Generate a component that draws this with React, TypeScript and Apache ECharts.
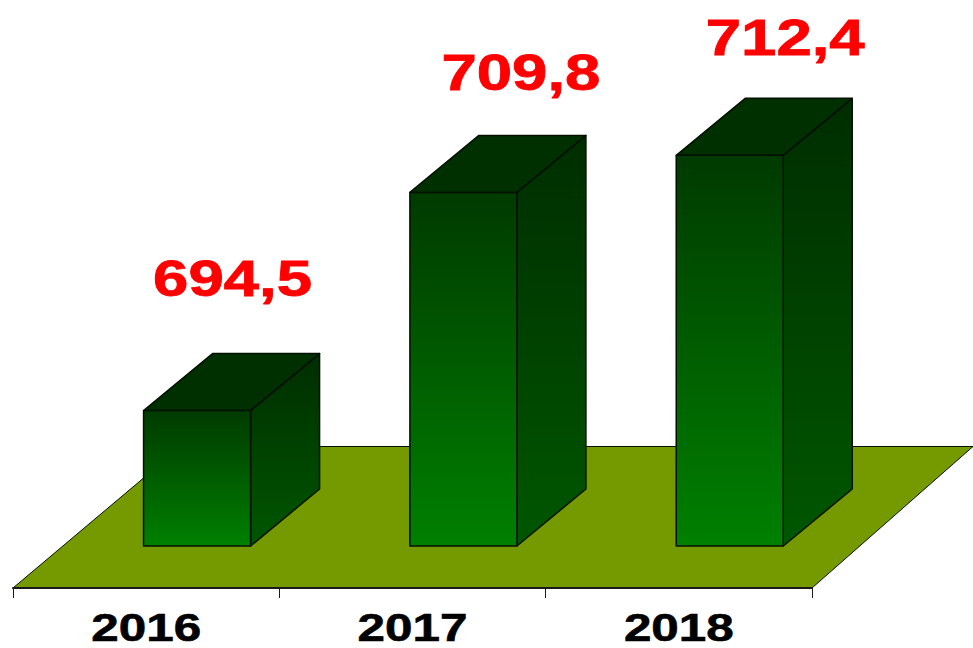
import React, { useEffect, useRef } from "react";
import * as echarts from "echarts";

const years = ["2016", "2017", "2018"];
const values = [694.5, 709.8, 712.4];
const valueLabels = ["694,5", "709,8", "712,4"];

// Hand placement of the value captions relative to each bar's front-left-top corner.
const captionShiftX = [89, 111, 109];
const captionShiftY = [-132.5, -120, -118];

const DEPTH_X = 69;
const DEPTH_Y = 57;
const BAR_W = 107;
const BAR_SHIFT = -2.6;
const OUTLINE = "#041000";

const vGrad = (top: string, bottom: string) =>
  new echarts.graphic.LinearGradient(0, 0, 0, 1, [
    { offset: 0, color: top },
    { offset: 1, color: bottom },
  ]);

export default function App() {
  const ref = useRef<HTMLDivElement>(null);
  useEffect(() => {
    document.body.style.margin = "0";
    document.body.style.background = "#ffffff";
    const chart = echarts.init(ref.current!, undefined, { renderer: "svg" });
    chart.setOption({
      animation: false,
      backgroundColor: "#ffffff",
      grid: { left: 13, width: 799, top: 47, height: 499 },
      xAxis: {
        type: "category",
        data: years,
        offset: 42,
        z: 6,
        axisLine: { lineStyle: { color: "#1a1a1a", width: 2 } },
        axisTick: { show: true, length: 10, lineStyle: { color: "#1a1a1a", width: 1 } },
        axisLabel: { show: false },
        splitLine: { show: false },
      },
      yAxis: { type: "value", min: 685, max: 720, show: false, splitLine: { show: false } },
      series: [
        {
          type: "custom",
          name: "floor",
          coordinateSystem: "cartesian2d",
          clip: false,
          z: 1,
          silent: true,
          data: [[0, 685]],
          encode: { x: 0, y: 1 },
          renderItem: (params: any) => {
            const g = params.coordSys;
            const bottom = g.y + g.height + 42;
            const top = bottom - 141.5;
            return {
              type: "polygon",
              shape: {
                points: [
                  [g.x, bottom],
                  [g.x + g.width, bottom],
                  [g.x + g.width + 161, top],
                  [g.x + 168, top],
                ],
              },
              style: { fill: "#759a00", stroke: OUTLINE, lineWidth: 1 },
            };
          },
        },
        {
          type: "custom",
          name: "bars",
          coordinateSystem: "cartesian2d",
          clip: false,
          z: 3,
          silent: true,
          data: years.map((y, i) => [y, values[i]]),
          encode: { x: 0, y: 1 },
          renderItem: (params: any, api: any) => {
            const i = params.dataIndex;
            const top = api.coord([api.value(0), api.value(1)]);
            const base = api.coord([api.value(0), 685]);
            const x0 = top[0] + BAR_SHIFT;
            const x1 = x0 + BAR_W;
            const yT = top[1];
            const yB = base[1];
            const stroke = { stroke: OUTLINE, lineWidth: 1.5, lineJoin: "round" };
            const g = params.coordSys;
            return {
              type: "group",
              children: [
                {
                  type: "polygon",
                  shape: {
                    points: [
                      [x1, yT],
                      [x1 + DEPTH_X, yT - DEPTH_Y],
                      [x1 + DEPTH_X, yB - DEPTH_Y],
                      [x1, yB],
                    ],
                  },
                  style: { fill: vGrad("#002d00", "#005700"), ...stroke },
                },
                {
                  type: "polygon",
                  shape: {
                    points: [
                      [x0, yT],
                      [x0 + DEPTH_X, yT - DEPTH_Y],
                      [x1 + DEPTH_X, yT - DEPTH_Y],
                      [x1, yT],
                    ],
                  },
                  style: { fill: "#003000", ...stroke },
                },
                {
                  type: "polygon",
                  shape: {
                    points: [
                      [x0, yT],
                      [x1, yT],
                      [x1, yB],
                      [x0, yB],
                    ],
                  },
                  style: { fill: vGrad("#003a00", "#008000"), ...stroke },
                },
                {
                  type: "text",
                  x: x0 + captionShiftX[i],
                  y: yT + captionShiftY[i],
                  scaleX: 1.27,
                  style: {
                    text: valueLabels[i],
                    font: 'bold 50px "Liberation Sans", Arial, sans-serif',
                    fill: "#ff0000",
                    stroke: "#ff0000",
                    lineWidth: 0.8,
                    textAlign: "center",
                    textVerticalAlign: "middle",
                  },
                },
                {
                  type: "text",
                  x: top[0],
                  y: g.y + g.height + 82,
                  scaleX: 1.3,
                  style: {
                    text: years[i],
                    font: 'bold 38px "Liberation Sans", Arial, sans-serif',
                    fill: "#000000",
                    stroke: "#000000",
                    lineWidth: 0.6,
                    textAlign: "center",
                    textVerticalAlign: "middle",
                  },
                },
              ],
            };
          },
        },
      ],
    });
    return () => chart.dispose();
  }, []);
  return <div ref={ref} style={{ width: 973, height: 648, position: "absolute", left: 0, top: 0 }} />;
}
